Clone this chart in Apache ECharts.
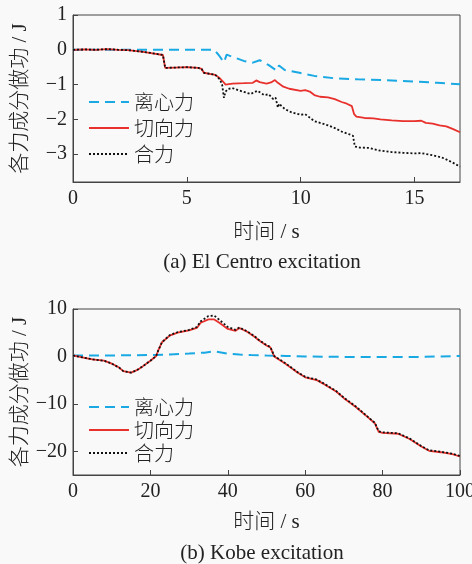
<!DOCTYPE html>
<html>
<head>
<meta charset="utf-8">
<script src="https://cdn.jsdelivr.net/npm/echarts@6/dist/echarts.min.js"></script>
<style>
html,body{margin:0;padding:0;background:#f9f9f9;}
#c{width:472px;height:564px;}
</style>
</head>
<body>
<div id="c"></div>
<script>
// ---- Data: (a) El Centro excitation ----
var seriesNames = ['离心力', '切向力', '合力'];
var elCentT = [0,2,4,6.2,6.4,6.63,6.75,7.0,7.5,7.9,8.2,8.6,8.95,9.05,9.3,10,10.6,11.5,12.5,14,15,16,17];
var elCentV = [0,0,0,0,-0.15,-0.36,-0.14,-0.2,-0.32,-0.37,-0.3,-0.44,-0.6,-0.45,-0.58,-0.67,-0.75,-0.82,-0.85,-0.88,-0.91,-0.95,-0.99];
var elTanT = [0,0.5,1,1.5,2,2.4,3,3.5,3.95,4.05,4.5,5,5.5,5.65,5.75,6.0,6.25,6.45,6.6,6.7,7.0,7.5,7.9,8.05,8.2,8.5,8.7,8.87,9.0,9.24,9.5,10.0,10.2,10.4,10.6,10.85,11.2,11.5,11.8,12.03,12.25,12.35,12.45,12.8,13.2,13.5,14.0,14.5,15.0,15.3,15.5,15.8,16.1,16.4,16.7,17];
var elTanV = [0,0.01,0,0.02,0,-0.01,-0.05,-0.1,-0.15,-0.52,-0.51,-0.5,-0.52,-0.55,-0.66,-0.69,-0.72,-0.82,-0.92,-1.0,-0.97,-0.96,-0.95,-0.88,-0.93,-0.97,-0.94,-0.87,-0.95,-1.06,-1.12,-1.18,-1.16,-1.2,-1.3,-1.35,-1.37,-1.42,-1.5,-1.55,-1.62,-1.85,-1.92,-1.96,-1.97,-2.0,-2.03,-2.05,-2.05,-2.04,-2.1,-2.12,-2.17,-2.2,-2.28,-2.37];
var elTotT = [0,0.5,1,1.5,2,2.4,3,3.5,3.95,4.05,4.5,5,5.5,5.65,5.75,6.0,6.25,6.45,6.55,6.63,6.7,6.8,7.0,7.3,7.6,7.8,8.1,8.4,8.6,8.8,8.9,9.0,9.05,9.3,9.6,10.0,10.2,10.6,11.2,11.5,11.8,12.1,12.3,12.38,12.6,13.0,13.5,14.0,14.5,15.0,15.3,15.7,16.0,16.3,16.7,17];
var elTotV = [0,0.01,0,0.02,0,-0.01,-0.05,-0.1,-0.15,-0.52,-0.51,-0.5,-0.52,-0.55,-0.66,-0.69,-0.72,-0.85,-1.0,-1.38,-1.2,-1.13,-1.1,-1.17,-1.23,-1.27,-1.18,-1.3,-1.28,-1.42,-1.38,-1.66,-1.55,-1.7,-1.8,-1.87,-1.85,-2.05,-2.17,-2.25,-2.35,-2.42,-2.47,-2.78,-2.81,-2.82,-2.9,-2.94,-2.96,-2.98,-2.97,-3.02,-3.06,-3.12,-3.25,-3.36];

// ---- Data: (b) Kobe excitation ----
var kbCentT = [0,10,20,25,30,34,36,37,40,43,46,50,55,60,70,80,90,100];
var kbCentV = [0.2,0.2,0.3,0.4,0.6,0.8,1.0,1.0,0.6,0.4,0.3,0.2,0.1,0.0,-0.1,-0.1,-0.1,0.1];
var kbTanT = [0,3,5,8,10,12,13,15,16.5,18,20,21.5,22,23,25,27,30,32,33,35,36.5,38,40,42,43,45,47,48,50,51,52,55,58,60,63,65,68,70,73,76,78,79,80,84,87,90,92,95,98,100];
var kbTanV = [0.2,-0.3,-0.6,-0.9,-1.5,-2.4,-3.1,-3.4,-2.9,-2.1,-0.9,0.1,1.2,3.0,4.4,5.0,5.5,6.0,7.1,7.8,7.8,7.0,5.8,5.4,6.0,5.2,4.1,3.4,2.3,1.9,0,-1.6,-3.4,-4.4,-5.0,-5.9,-7.4,-8.8,-10.6,-12.7,-14.1,-15.9,-16.1,-16.3,-17.4,-19.0,-19.9,-20.2,-20.6,-21.1];
var kbTotT = kbTanT;
var kbTotV = [0.2,-0.3,-0.6,-0.9,-1.5,-2.4,-3.1,-3.4,-2.9,-2.1,-0.9,0.1,1.2,3.0,4.5,5.1,5.6,6.2,7.4,8.5,8.6,7.6,6.2,5.6,6.1,5.3,4.2,3.5,2.4,2.0,0.1,-1.5,-3.3,-4.3,-4.9,-5.8,-7.3,-8.7,-10.5,-12.6,-14.0,-15.8,-16.0,-16.2,-17.3,-18.9,-19.8,-20.1,-20.5,-21.0];

// ---- Tick labels ----
var elXTicks = [0,5,10,15];
var elYTicks = [-3,-2,-1,0,1];
var kbXTicks = [0,20,40,60,80,100];
var kbYTicks = [-20,-10,0,10];

function zip(t, v){ return t.map(function(x,i){ return [x, v[i]]; }); }

var serif = 'Liberation Serif, Times New Roman, serif';
var cjk = 'Noto Sans CJK SC';
var mixed = '"Liberation Serif", "Noto Sans CJK SC", serif';
var axisColor = '#444';
var textColor = '#222';
var fmt = function(v){ return String(v).replace('-', '\u2212'); };

function xAxis(gi, max, ticks){
  return {
    type:'value', gridIndex:gi, min:0, max:max,
    name:'时间 / s', nameLocation:'middle', nameGap: gi===0 ? 40 : 37, nameMoveOverlap:false,
    nameTextStyle:{fontFamily:mixed, fontSize:21, fontWeight:300, color:textColor},
    axisLine:{show:true, onZero:false, lineStyle:{color:axisColor, width:1}},
    axisTick:{show:true, inside:true, length:5, lineStyle:{color:axisColor}, customValues:ticks},
    axisLabel:{fontFamily:serif, fontSize:20, color:textColor, margin:7, formatter:fmt, customValues:ticks},
    splitLine:{show:false}
  };
}
function yAxis(gi, min, max, ticks){
  return {
    type:'value', gridIndex:gi, min:min, max:max,
    name:'各力成分做功 / J', nameLocation:'middle', nameGap:42, nameRotate:90, nameMoveOverlap:false,
    nameTextStyle:{fontFamily:mixed, fontSize:21, fontWeight:300, color:textColor},
    axisLine:{show:true, onZero:false, lineStyle:{color:axisColor, width:1}},
    axisTick:{show:true, inside:true, length:5, lineStyle:{color:axisColor}, customValues:ticks},
    axisLabel:{fontFamily:serif, fontSize:20, color:textColor, margin:6, formatter:fmt, customValues:ticks},
    splitLine:{show:false}
  };
}
function mk(name, data, xi, style){
  return {
    name:name, type:'line', xAxisIndex:xi, yAxisIndex:xi, data:data,
    showSymbol:false, symbol:'none', animation:false, lineStyle:style, itemStyle:{color:style.color}
  };
}
var blue = {color:'#1aa9e3', width:2, type:[10,6]};
var red = {color:'#e8302c', width:1.8, type:'solid'};
var black = {color:'#111', width:1.8, type:[2,2]};

function legend(top, gap){
  return {orient:'vertical', left:88, top:top, padding:0, itemWidth:40, itemHeight:12, itemGap:gap, data:seriesNames,
    itemStyle:{color:'transparent', borderColor:'transparent', borderWidth:0, opacity:0},
    textStyle:{fontFamily:cjk, fontSize:20, fontWeight:300, color:textColor, lineHeight:20}};
}

var chart = echarts.init(document.getElementById('c'));
chart.setOption({
  backgroundColor:'#f9f9f9',
  animation:false,
  grid:[
    {left:73, top:15, width:387, height:167, outerBoundsMode:'none', containLabel:false, show:true, borderColor:axisColor, borderWidth:1, backgroundColor:'transparent'},
    {left:73, top:309, width:387, height:166, outerBoundsMode:'none', containLabel:false, show:true, borderColor:axisColor, borderWidth:1, backgroundColor:'transparent'}
  ],
  xAxis:[xAxis(0,17,elXTicks), xAxis(1,100,kbXTicks)],
  yAxis:[yAxis(0,-3.8,1,elYTicks), yAxis(1,-25,10,kbYTicks)],
  legend:[legend(92,6), legend(397,3)],
  graphic:[
    {type:'text', x:262, y:262, style:{text:'(a) El Centro excitation', font:'21px ' + serif, fill:textColor, align:'center', verticalAlign:'middle'}},
    {type:'text', x:262, y:553, style:{text:'(b) Kobe excitation', font:'21px ' + serif, fill:textColor, align:'center', verticalAlign:'middle'}}
  ],
  series:[
    mk('离心力', zip(elCentT, elCentV), 0, blue),
    mk('切向力', zip(elTanT, elTanV), 0, red),
    mk('合力', zip(elTotT, elTotV), 0, black),
    mk('离心力', zip(kbCentT, kbCentV), 1, blue),
    mk('切向力', zip(kbTanT, kbTanV), 1, red),
    mk('合力', zip(kbTotT, kbTotV), 1, black)
  ]
});
</script>
</body>
</html>
